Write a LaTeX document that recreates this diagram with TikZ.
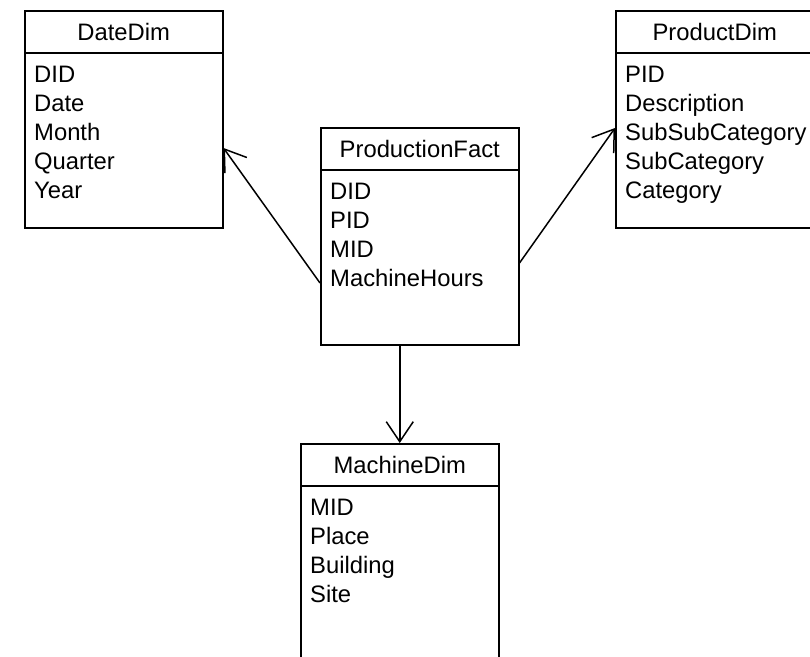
\documentclass[tikz,border=0pt]{standalone}
\usepackage{fontspec}
\setmainfont{Liberation Sans}
\usetikzlibrary{arrows.meta}

\begin{document}
\begin{tikzpicture}[x=1pt,y=-1pt,
    tbl/.style={draw, line width=1.5pt, minimum width=198pt, inner sep=0pt, anchor=north west},
    ttl/.style={font=\fontsize{23.8}{29}\selectfont, inner sep=0pt},
    fld/.style={font=\fontsize{23.8}{29}\selectfont, align=left, inner sep=0pt, anchor=north west},
    rel/.style={line width=1.5pt, -{Straight Barb[length=20pt,width=27pt]}}]

      \useasboundingbox (0,0) rectangle (810,656);

      \begin{scope}[every node/.style={tbl}]
        \node[minimum height=217pt] (date) at (24,10)   {};
        \node[minimum height=217pt] (prod) at (615,10)  {};
        \node[minimum height=217pt] (fact) at (320,127) {};
        \node[minimum height=230pt] (mach) at (300,443) {};
      \end{scope}

      \foreach \t in {date,prod,fact,mach}
        \draw[line width=1.5pt] ([yshift=-43pt]\t.north west) -- ([yshift=-43pt]\t.north east);

      \node[ttl] (datettl) at ([yshift=-22pt]date.north) {DateDim};
      \node[ttl] (prodttl) at ([yshift=-22pt]prod.north) {ProductDim};
      \node[ttl] (factttl) at ([yshift=-22pt]fact.north) {ProductionFact};
      \node[ttl] (machttl) at ([yshift=-22pt]mach.north) {MachineDim};

      \node[fld] (datefld) at ([xshift=10pt,yshift=-56pt]date.north west) {DID\\Date\\Month\\Quarter\\Year};
      \node[fld] (prodfld) at ([xshift=10pt,yshift=-56pt]prod.north west) {PID\\Description\\SubSubCategory\\SubCategory\\Category};
      \node[fld] (factfld) at ([xshift=10pt,yshift=-56pt]fact.north west) {DID\\PID\\MID\\MachineHours};
      \node[fld] (machfld) at ([xshift=10pt,yshift=-56pt]mach.north west) {MID\\Place\\Building\\Site};

      \draw[rel] ([yshift=-156pt]fact.north west) -- ([yshift=-138pt]date.north east);
      \draw[rel] ([yshift=-136pt]fact.north east) -- ([yshift=-118pt]prod.north west);
      \draw[rel] (fact.south -| mach.north) -- (mach.north);

    \end{tikzpicture}
\end{document}
